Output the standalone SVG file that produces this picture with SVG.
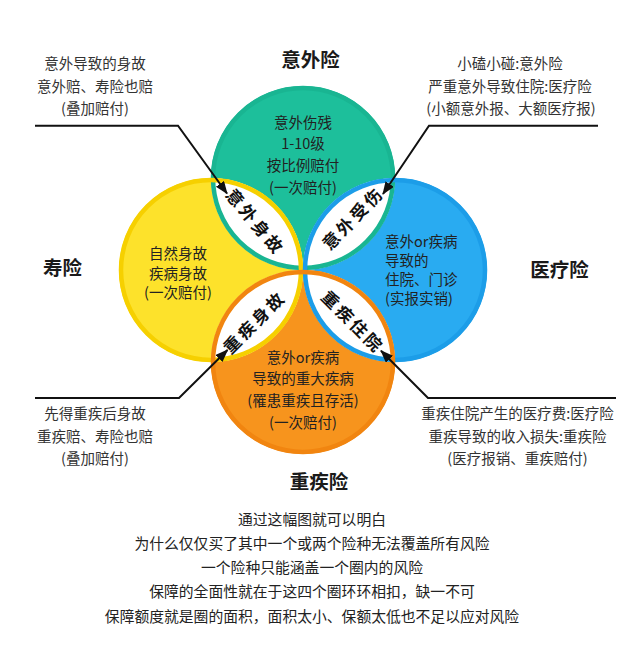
<svg xmlns="http://www.w3.org/2000/svg" width="640" height="663" viewBox="0 0 640 663">
<style>
text{font-family:"Noto Sans CJK SC","Noto Sans",sans-serif;fill:#262626;text-anchor:middle}
.lbl{font-size:14.5px;fill:#333}
.in{font-size:14.5px;fill:#222}
.ttl{font-size:19.5px;font-weight:bold;fill:#1a1a1a}
.lens{font-size:17px;font-weight:bold;fill:#111;letter-spacing:3px}
.body{font-size:14.8px;fill:#222}
.conn{fill:none;stroke:#111;stroke-width:2}
.lensf{fill:#fff}
</style>
<defs>
<marker id="ah" markerUnits="userSpaceOnUse" markerWidth="14" markerHeight="11" refX="12" refY="5" orient="auto">
<path d="M0,0 L13,5 L0,10 z" fill="#111"/>
</marker>
</defs>
<rect width="640" height="663" fill="#fff"/>
<g id="circles">
<g id="node-accident"><circle cx="303" cy="178" r="92" fill="#1dbf9b"/></g>
<g id="node-life"><circle cx="211" cy="270" r="92" fill="#fde22b"/></g>
<g id="node-medical"><circle cx="395" cy="270" r="92" fill="#29abf1"/></g>
<g id="node-critical"><circle cx="303" cy="362" r="92" fill="#f7941d"/></g>
</g>
<g id="lenses">
<path class="lensf" d="M211,178 A92,92 0 0 0 303,270 A92,92 0 0 0 211,178 Z"/>
<path class="lensf" d="M303,270 A92,92 0 0 0 395,178 A92,92 0 0 0 303,270 Z"/>
<path class="lensf" d="M303,270 A92,92 0 0 1 211,362 A92,92 0 0 1 303,270 Z"/>
<path class="lensf" d="M303,270 A92,92 0 0 0 395,362 A92,92 0 0 0 303,270 Z"/>
</g>
<g id="outlines" fill="none" stroke-width="4.5">
<circle cx="303" cy="178" r="90" stroke="#19b592"/>
<circle cx="211" cy="270" r="90" stroke="#f6d000"/>
<circle cx="395" cy="270" r="90" stroke="#1c9de8"/>
<circle cx="303" cy="362" r="90" stroke="#f18510"/>
</g>
<g id="circle-texts">
<text class="in" x="303" y="128">意外伤残</text>
<text class="in" x="303" y="149">1-10级</text>
<text class="in" x="303" y="170.5">按比例赔付</text>
<text class="in" x="303" y="192.5">(一次赔付)</text>
<text class="in" x="178" y="258.5">自然身故</text>
<text class="in" x="178" y="278.5">疾病身故</text>
<text class="in" x="178" y="298">(一次赔付)</text>
<text class="in" x="385" y="247" style="text-anchor:start">意外or疾病</text>
<text class="in" x="385" y="266" style="text-anchor:start">导致的</text>
<text class="in" x="385" y="285" style="text-anchor:start">住院、门诊</text>
<text class="in" x="385" y="304" style="text-anchor:start">(实报实销)</text>
<text class="in" x="303" y="362.5">意外or疾病</text>
<text class="in" x="303" y="383.5">导致的重大疾病</text>
<text class="in" x="303" y="405.5">(罹患重疾且存活)</text>
<text class="in" x="303" y="427.5">(一次赔付)</text>
</g>
<g id="lens-texts">
<text class="lens" transform="translate(255.5,222) rotate(50)" y="6.5">意外身故</text>
<text class="lens" transform="translate(353,218) rotate(-46)" y="6.5">意外受伤</text>
<text class="lens" transform="translate(254.5,322) rotate(-45)" y="6.5">重疾身故</text>
<text class="lens" transform="translate(353,322) rotate(45)" y="6.5">重疾住院</text>
</g>
<g id="titles">
<text class="ttl" x="310.5" y="66.5">意外险</text>
<text class="ttl" x="62.5" y="275">寿险</text>
<text class="ttl" x="559.5" y="277">医疗险</text>
<text class="ttl" x="319" y="488.5">重疾险</text>
</g>
<g id="node-note-tl">
<text class="lbl" x="95" y="69">意外导致的身故</text>
<text class="lbl" x="95" y="91.5">意外赔、寿险也赔</text>
<text class="lbl" x="95" y="114">(叠加赔付)</text>
</g>
<g id="node-note-tr">
<text class="lbl" x="510" y="69">小磕小碰:意外险</text>
<text class="lbl" x="510" y="91.5">严重意外导致住院:医疗险</text>
<text class="lbl" x="511" y="114">(小额意外报、大额医疗报)</text>
</g>
<g id="node-note-bl">
<text class="lbl" x="95" y="419">先得重疾后身故</text>
<text class="lbl" x="95" y="441.5">重疾赔、寿险也赔</text>
<text class="lbl" x="95" y="464">(叠加赔付)</text>
</g>
<g id="node-note-br">
<text class="lbl" x="517.5" y="419">重疾住院产生的医疗费:医疗险</text>
<text class="lbl" x="517.5" y="441.5">重疾导致的收入损失:重疾险</text>
<text class="lbl" x="517.5" y="464">(医疗报销、重疾赔付)</text>
</g>
<g id="connectors">
<path class="conn" d="M35,125.7 H178 L227,193.5" marker-end="url(#ah)"/>
<path class="conn" d="M598,125.7 H429 L383,194" marker-end="url(#ah)"/>
<path class="conn" d="M35,398 H179 L227.5,350" marker-end="url(#ah)"/>
<path class="conn" d="M616,398 H428 L381,350.7" marker-end="url(#ah)"/>
</g>
<g id="summary">
<text class="body" x="312" y="525">通过这幅图就可以明白</text>
<text class="body" x="312" y="549">为什么仅仅买了其中一个或两个险种无法覆盖所有风险</text>
<text class="body" x="312" y="573">一个险种只能涵盖一个圈内的风险</text>
<text class="body" x="312" y="597">保障的全面性就在于这四个圈环环相扣，缺一不可</text>
<text class="body" x="312" y="622">保障额度就是圈的面积，面积太小、保额太低也不足以应对风险</text>
</g>
</svg>
